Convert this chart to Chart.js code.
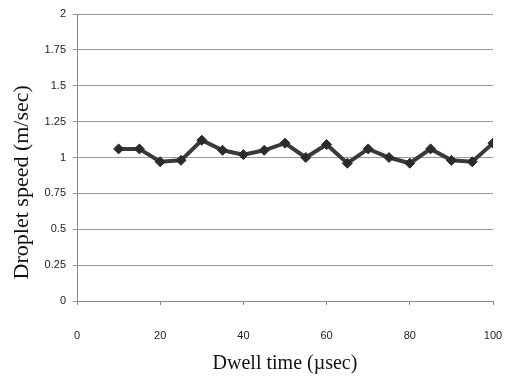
<!DOCTYPE html>
<html>
<head>
<meta charset="utf-8">
<script src="https://cdn.jsdelivr.net/npm/chart.js@4/dist/chart.umd.min.js"></script>
<style>
  html, body { margin: 0; padding: 0; background: #fff; }
  #c { display: block; }
</style>
</head>
<body>
<canvas id="c" width="510" height="379"></canvas>
<script>
const dwellTimes = [10, 15, 20, 25, 30, 35, 40, 45, 50, 55, 60, 65, 70, 75, 80, 85, 90, 95, 100];
const dropletSpeeds = [1.06, 1.06, 0.97, 0.98, 1.12, 1.05, 1.02, 1.05, 1.10, 1.00, 1.09, 0.96, 1.06, 1.00, 0.96, 1.06, 0.98, 0.97, 1.10];
const yTickLabels = ['0', '0.25', '0.5', '0.75', '1', '1.25', '1.5', '1.75', '2'];
const xTickLabels = ['0', '20', '40', '60', '80', '100'];
const xTitle = 'Dwell time (\u00b5sec)';
const yTitle = 'Droplet speed (m/sec)';

const points = dwellTimes.map((t, i) => ({ x: t, y: dropletSpeeds[i] }));

new Chart(document.getElementById('c'), {
  type: 'line',
  data: {
    datasets: [{
      data: points,
      borderColor: '#3a3a3a',
      borderWidth: 4,
      pointStyle: 'rectRot',
      pointRadius: 5,
      pointBackgroundColor: '#2b2b2b',
      pointBorderColor: '#2b2b2b',
      pointBorderWidth: 1,
      tension: 0,
      fill: false
    }]
  },
  options: {
    responsive: false,
    animation: false,
    devicePixelRatio: 1,
    layout: { padding: { top: 14, right: 17, bottom: 0, left: 0 } },
    plugins: { legend: { display: false }, tooltip: { enabled: false } },
    scales: {
      x: {
        type: 'linear',
        min: 0, max: 100,
        afterFit: s => { s.height = 78; s.paddingLeft = 0; s.paddingRight = 0; },
        ticks: { stepSize: 20, padding: 24, color: '#222', font: { family: 'Liberation Sans', size: 11 }, maxRotation: 0,
          callback: (v, i) => xTickLabels[i] },
        grid: { drawOnChartArea: false, drawTicks: true, tickLength: 4, color: '#8a8a8a' },
        border: { display: true, color: '#8a8a8a', width: 1 },
        title: { display: true, text: xTitle, color: '#111', font: { family: 'Liberation Serif', size: 20 }, padding: { top: 0, bottom: 3 } }
      },
      y: {
        min: 0, max: 2,
        afterFit: s => { s.width = 77; s.paddingTop = 0; s.paddingBottom = 0; },
        ticks: { stepSize: 0.25, padding: 7, color: '#222', font: { family: 'Liberation Sans', size: 11 },
          callback: (v, i) => yTickLabels[i] },
        grid: { drawOnChartArea: true, drawTicks: true, tickLength: 4, color: '#9a9a9a' },
        border: { display: true, color: '#8a8a8a', width: 1 },
        title: { display: true, text: yTitle + '         ', color: '#111', font: { family: 'Liberation Serif', size: 22 }, padding: { top: 9, bottom: 0 } }
      }
    }
  }
});
</script>
</body>
</html>
